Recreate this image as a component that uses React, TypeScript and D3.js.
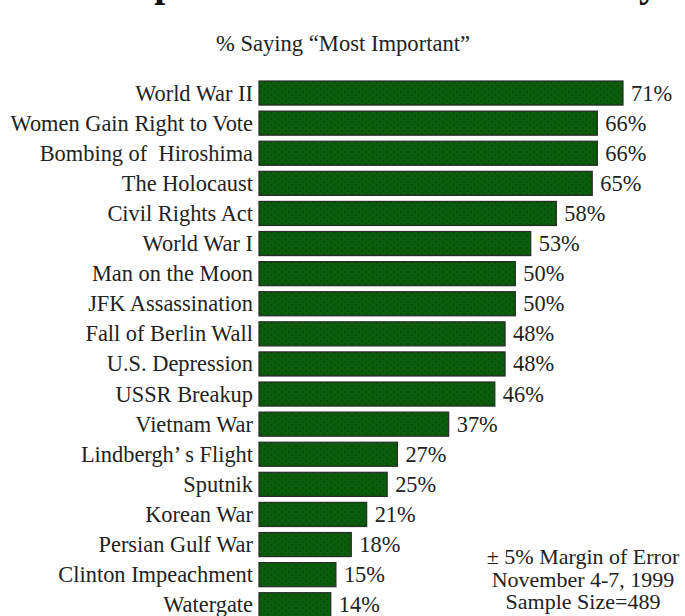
import React from "react";
import * as d3 from "d3";

const categories = [
  "World War II",
  "Women Gain Right to Vote",
  "Bombing of  Hiroshima",
  "The Holocaust",
  "Civil Rights Act",
  "World War I",
  "Man on the Moon",
  "JFK Assassination",
  "Fall of Berlin Wall",
  "U.S. Depression",
  "USSR Breakup",
  "Vietnam War",
  "Lindbergh\u2019 s Flight",
  "Sputnik",
  "Korean War",
  "Persian Gulf War",
  "Clinton Impeachment",
  "Watergate",
];
const values = [71, 66, 66, 65, 58, 53, 50, 50, 48, 48, 46, 37, 27, 25, 21, 18, 15, 14];
const titleText = "Most Important Events of the Century";
const subtitleText = "% Saying \u201CMost Important\u201D";
const noteLines = ["\u00B1 5% Margin of Error", "November 4-7, 1999", "Sample Size=489"];

const W = 685;
const H = 616;
const FONT = "'Liberation Serif', 'Times New Roman', serif";

export default function App() {
  const y = d3
    .scaleBand<string>()
    .domain(categories)
    .range([78, 619.8])
    .paddingInner(0.2)
    .paddingOuter(0.1);
  const x = d3.scaleLinear().domain([0, 71]).range([259, 623]);
  const bw = y.bandwidth();

  return (
    <svg
      width={W}
      height={H}
      style={{ position: "fixed", left: 0, top: 0, background: "#fff" }}
      fontFamily={FONT}
    >
      <defs>
        <pattern id="dots" width="7" height="6" patternUnits="userSpaceOnUse">
          <rect width="7" height="6" fill="#0b5c0b" />
          <circle cx="2" cy="2" r="0.8" fill="#063f06" />
          <circle cx="5.5" cy="5" r="0.8" fill="#063f06" />
        </pattern>
      </defs>
      <rect width={W} height={H} fill="#fff" />
      <text x={335} y={-4.5} textAnchor="middle" fontSize={39.3} fontWeight="bold" fill="#111">
        {titleText}
      </text>
      <text x={343} y={51} textAnchor="middle" fontSize={22.6} fill="#222">
        {subtitleText}
      </text>
      {categories.map((c, i) => {
        const top = y(c)!;
        const cy = top + bw / 2;
        return (
          <g key={c}>
            <rect
              x={x(0)}
              y={top}
              width={x(values[i]) - x(0)}
              height={bw}
              fill="url(#dots)"
              stroke="#2a2a2a"
              strokeWidth={1.2}
            />
            <text
              x={253}
              y={cy + 7.5}
              textAnchor="end"
              fontSize={22.4}
              fill="#222"
              style={{ whiteSpace: "pre" }}
            >
              {c}
            </text>
            <text x={x(values[i]) + 8} y={cy + 7.5} fontSize={22.4} fill="#222">
              {values[i] + "%"}
            </text>
          </g>
        );
      })}
      {noteLines.map((t, i) => (
        <text key={t} x={583} y={564 + i * 22.5} textAnchor="middle" fontSize={22} fill="#222">
          {t}
        </text>
      ))}
    </svg>
  );
}
